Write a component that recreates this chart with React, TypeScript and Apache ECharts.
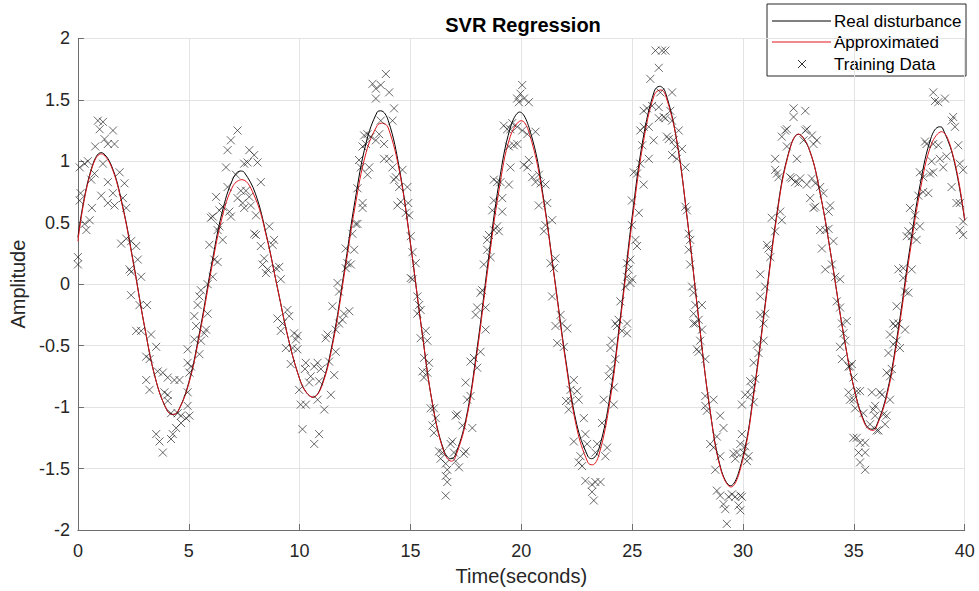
import React, { useEffect, useRef } from "react";
import * as echarts from "echarts";

const FONT = "'Liberation Sans', Arial, Helvetica, sans-serif";

const xTicks = [0, 5, 10, 15, 20, 25, 30, 35, 40];
const yTicks = [-2, -1.5, -1, -0.5, 0, 0.5, 1, 1.5, 2];

const realTime = [0, 0.5, 1.05, 1.5, 2, 2.5, 3, 3.5, 4, 4.28, 4.5, 5, 5.5, 6, 6.5, 7, 7.33, 7.5, 8, 8.5, 9, 9.5, 10, 10.3, 10.6, 11, 11.5, 12, 12.5, 13, 13.5, 13.66, 14, 14.5, 15, 15.5, 16, 16.5, 16.82, 17, 17.5, 18, 18.5, 19, 19.5, 19.92, 20.5, 21, 21.5, 22, 22.5, 23, 23.17, 23.5, 24, 24.5, 25, 25.5, 26, 26.24, 26.5, 27, 27.5, 28, 28.5, 29, 29.43, 30, 30.5, 31, 31.5, 32, 32.5, 33, 33.5, 34, 34.5, 35, 35.5, 35.81, 36, 36.5, 37, 37.5, 38, 38.5, 38.86, 39, 39.5, 40];
const realAmp = [0.38, 0.87, 1.07, 0.97, 0.65, 0.18, -0.34, -0.77, -1.02, -1.06, -1.04, -0.8, -0.38, 0.13, 0.58, 0.86, 0.92, 0.91, 0.74, 0.4, -0.03, -0.45, -0.77, -0.88, -0.92, -0.82, -0.46, 0.09, 0.68, 1.15, 1.4, 1.41, 1.33, 0.94, 0.33, -0.36, -0.98, -1.35, -1.42, -1.4, -1.1, -0.53, 0.18, 0.83, 1.27, 1.4, 1.18, 0.7, 0.05, -0.61, -1.14, -1.4, -1.42, -1.34, -0.91, -0.22, 0.55, 1.19, 1.57, 1.61, 1.56, 1.18, 0.51, -0.28, -1.01, -1.5, -1.64, -1.4, -0.86, -0.16, 0.54, 1.03, 1.22, 1.09, 0.72, 0.2, -0.37, -0.84, -1.13, -1.18, -1.16, -0.88, -0.37, 0.26, 0.82, 1.2, 1.28, 1.27, 1.02, 0.52];

const approxTime = [0, 0.5, 1.05, 1.5, 2, 2.5, 3, 3.5, 4, 4.28, 4.5, 5, 5.5, 6, 6.5, 7, 7.4, 8, 8.5, 9, 9.5, 10, 10.3, 10.6, 11, 11.5, 12, 12.5, 13, 13.5, 13.75, 14, 14.5, 15, 15.5, 16, 16.5, 16.85, 17, 17.5, 18, 18.5, 19, 19.5, 20, 20.5, 21, 21.5, 22, 22.5, 23, 23.2, 23.5, 24, 24.5, 25, 25.5, 26, 26.3, 26.5, 27, 27.5, 28, 28.5, 29, 29.45, 30, 30.5, 31, 31.5, 32, 32.5, 33, 33.5, 34, 34.5, 35, 35.5, 35.85, 36, 36.5, 37, 37.5, 38, 38.5, 38.95, 39.5, 40];
const approxAmp = [0.35, 0.86, 1.06, 0.96, 0.64, 0.17, -0.34, -0.77, -1.02, -1.06, -1.04, -0.81, -0.4, 0.1, 0.54, 0.8, 0.85, 0.7, 0.39, -0.03, -0.45, -0.77, -0.88, -0.92, -0.83, -0.48, 0.06, 0.63, 1.07, 1.29, 1.31, 1.27, 0.92, 0.33, -0.36, -0.98, -1.36, -1.44, -1.42, -1.12, -0.56, 0.14, 0.77, 1.2, 1.33, 1.14, 0.68, 0.04, -0.63, -1.17, -1.45, -1.47, -1.39, -0.95, -0.25, 0.51, 1.15, 1.54, 1.58, 1.54, 1.18, 0.51, -0.28, -1.01, -1.51, -1.65, -1.42, -0.88, -0.18, 0.52, 1.02, 1.22, 1.09, 0.72, 0.2, -0.37, -0.84, -1.14, -1.19, -1.17, -0.9, -0.4, 0.22, 0.77, 1.14, 1.24, 1.03, 0.52];

// Training data, [time, amplitude]
const trainingData: [number, number][] = [
  [0, 0.22], [0, 0.16], [0.08, 0.68], [0.12, 0.74], [0.08, 0.95], [0.3, 0.98], [0.45, 1.0], [0.3, 0.49], [0.38, 0.44], [0.53, 0.52],
  [0.63, 0.62], [0.6, 0.85], [0.75, 0.9], [0.78, 1.12], [0.9, 1.33], [1.13, 1.32], [0.98, 1.26], [1.2, 1.18], [1.35, 1.14], [1.58, 1.25],
  [1.65, 1.14], [1.05, 0.72], [1.13, 0.98], [1.35, 0.83], [1.35, 0.66], [1.65, 0.64], [1.58, 0.74], [1.88, 0.91], [2.1, 0.82], [2.03, 0.7],
  [2.18, 0.62], [1.95, 0.33], [2.18, 0.37], [2.4, 0.35], [2.63, 0.31], [2.7, 0.2], [2.33, 0.12], [2.4, 0.1], [2.85, 0.06], [2.4, -0.09],
  [2.78, -0.17], [3.12, -0.17], [2.63, -0.38], [2.85, -0.38], [3.3, -0.41], [3.53, -0.51], [3.08, -0.59], [3.23, -0.61], [3.08, -0.78], [3.23, -0.86],
  [3.6, -0.71], [3.83, -0.72], [4.05, -0.76], [4.35, -0.78], [4.58, -0.78], [3.9, -0.88], [4.05, -0.9], [4.05, -0.95], [4.2, -1.05], [4.5, -1.05],
  [4.65, -1.07], [4.88, -1.09], [3.53, -1.22], [3.68, -1.28], [3.83, -1.37], [4.2, -1.26], [4.28, -1.22], [4.43, -1.17], [4.65, -1.13], [4.95, -0.53],
  [4.95, -0.64], [5.03, -0.72], [5.03, -1.07], [4.95, -0.99], [4.95, -0.88], [5.1, -0.67], [5.25, -0.45], [5.48, -0.57], [5.55, -0.46], [5.7, -0.4],
  [5.78, -0.37], [5.25, -0.26], [5.33, -0.34], [5.85, -0.24], [5.4, -0.17], [5.48, -0.1], [5.55, -0.05], [5.85, 0], [6.08, 0.06], [6.15, 0.2],
  [6.3, 0.18], [5.93, 0.32], [6.3, 0.44], [6.53, 0.36], [6.38, 0.47], [6.08, 0.55], [6.0, 0.54], [6.38, 0.6], [6.53, 0.63], [6.23, 0.71],
  [6.83, 0.59], [6.9, 0.55], [6.75, 0.79], [6.68, 0.95], [6.75, 1.09], [6.9, 1.17], [7.2, 1.25], [7.13, 0.89], [7.2, 0.7], [7.35, 0.76],
  [7.43, 0.66], [7.5, 0.62], [7.58, 0.76], [7.5, 0.98], [7.65, 0.99], [7.73, 1.09], [7.95, 1.05], [8.1, 0.99], [8.25, 0.83], [7.73, 0.71],
  [7.8, 0.64], [8.03, 0.56], [7.95, 0.41], [8.03, 0.4], [8.25, 0.31], [8.4, 0.21], [8.33, 0.16], [8.55, 0.12], [8.63, 0.47], [8.85, 0.36],
  [8.78, 0.32], [8.48, 0.09], [8.93, 0.13], [9.15, 0.04], [9.08, 0.14], [9.0, -0.28], [9.23, -0.32], [9.15, -0.38], [9.45, -0.21], [9.53, -0.26],
  [9.38, -0.52], [9.6, -0.65], [9.75, -0.4], [9.83, -0.45], [9.68, -0.52], [9.9, -0.53], [9.98, -0.86], [10.05, -0.98], [10.13, -1.18], [9.91, -0.42],
  [10.28, -0.64], [10.24, -0.69], [10.5, -0.75], [10.43, -0.8], [10.66, -0.67], [10.81, -0.64], [10.96, -0.69], [10.88, -0.79], [10.28, -0.98], [10.66, -1.3],
  [10.88, -1.22], [10.81, -0.94], [11.11, -1.02], [11.18, -0.44], [11.26, -0.41], [11.33, -0.63], [11.41, -0.9], [11.56, -0.74], [11.63, -0.55], [11.63, -0.37],
  [11.78, -0.32], [11.93, -0.29], [12.0, -0.24], [12.24, -0.22], [11.48, -0.18], [11.78, -0.06], [11.71, 0.01], [12.08, 0.13], [12.16, 0.17], [12.31, 0.16],
  [12.08, 0.29], [12.46, 0.28], [12.38, 0.41], [12.53, 0.49], [12.61, 0.49], [12.61, 0.78], [12.84, 0.66], [12.84, 0.62], [12.68, 1.01], [12.76, 0.95],
  [12.84, 1.12], [12.91, 1.21], [13.06, 1.22], [12.99, 1.14], [13.14, 0.95], [13.06, 0.89], [13.21, 1.2], [13.44, 1.17], [13.59, 1.22], [13.81, 1.14],
  [13.66, 1.33], [13.29, 1.63], [13.44, 1.59], [13.66, 1.62], [13.44, 1.51], [13.89, 1.71], [14.04, 1.56], [14.26, 1.43], [14.19, 1.33], [13.81, 1.02],
  [14.04, 1.02], [14.19, 0.95], [14.34, 0.87], [14.26, 0.85], [14.64, 0.93], [14.49, 0.79], [14.41, 0.64], [14.56, 0.67], [14.79, 0.58], [14.86, 0.79],
  [14.9, 0.66], [14.94, 0.56], [15.01, 0.39], [15.09, 0.26], [15.24, 0.17], [15.01, 0.05], [15.09, 0.04], [15.31, -0.1], [15.39, -0.17], [15.31, -0.24],
  [15.46, -0.21], [15.46, -0.44], [15.69, -0.38], [15.76, -0.46], [15.61, -0.6], [15.84, -0.64], [15.54, -0.71], [15.61, -0.76], [15.76, -0.72], [15.91, -1.01],
  [16.06, -1.01], [16.14, -1.09], [15.99, -1.15], [16.06, -1.21], [16.29, -1.36], [16.44, -1.37], [16.36, -1.42], [16.59, -1.46], [16.66, -1.51], [16.59, -1.56],
  [16.66, -1.61], [16.59, -1.72], [16.81, -1.3], [16.89, -1.28], [16.96, -1.37], [17.04, -1.44], [17.19, -1.49], [17.04, -1.07], [17.11, -1.06], [17.34, -1.15],
  [17.41, -1.38], [17.49, -1.36], [17.49, -0.8], [17.56, -0.94], [17.71, -0.91], [17.79, -1.17], [17.71, -0.63], [17.86, -0.6], [18.16, -0.55], [18.01, -0.68],
  [17.94, -0.25], [18.01, -0.19], [18.39, -0.19], [18.39, -0.37], [18.16, -0.07], [18.24, -0.05], [18.31, 0.16], [18.46, 0.28], [18.61, 0.22], [18.46, 0.36],
  [18.54, 0.4], [18.76, 0.44], [18.99, 0.43], [18.91, 0.47], [18.69, 0.6], [19.14, 0.59], [18.76, 0.68], [19.14, 0.7], [18.76, 0.85], [18.91, 0.83],
  [19.06, 0.83], [19.44, 0.81], [19.51, 0.95], [19.44, 1.12], [19.66, 1.13], [19.21, 1.29], [19.36, 1.26], [19.51, 1.26], [19.59, 1.31], [19.81, 1.51],
  [19.89, 1.48], [19.96, 1.55], [20.04, 1.62], [20.11, 0.97], [20.12, 1.51], [20.34, 1.48], [19.82, 1.28], [20.04, 1.25], [20.27, 1.22], [20.64, 1.24],
  [19.82, 1.14], [20.34, 1.01], [20.27, 0.95], [20.49, 0.87], [20.64, 0.83], [20.79, 0.89], [20.87, 0.82], [21.09, 0.81], [20.79, 0.64], [21.17, 0.66],
  [21.09, 0.48], [21.02, 0.43], [21.39, 0.52], [21.32, 0.17], [21.54, 0.21], [21.47, 0.13], [21.39, -0.1], [21.77, -0.25], [21.84, -0.32], [21.54, -0.34],
  [22.07, -0.36], [21.62, -0.48], [21.92, -0.51], [22.37, -0.78], [22.22, -0.86], [22.52, -0.87], [22.02, -0.95], [22.22, -0.95], [22.14, -1.02], [22.59, -0.94],
  [22.82, -1.09], [22.37, -1.28], [22.89, -1.22], [22.97, -1.3], [22.67, -1.4], [22.74, -1.48], [22.59, -1.45], [23.42, -1.3], [23.34, -1.37], [22.89, -1.6],
  [23.19, -1.63], [23.34, -1.61], [23.57, -1.61], [23.19, -1.69], [23.27, -1.76], [23.64, -1.13], [23.72, -0.94], [23.87, -1.33], [23.79, -1.4], [23.94, -0.75],
  [24.02, -0.69], [24.17, -0.98], [24.17, -0.84], [24.02, -0.52], [24.09, -0.46], [24.24, -0.61], [24.24, -0.32], [24.32, -0.34], [24.39, -0.29], [24.54, -0.38],
  [24.47, -0.14], [24.69, -0.02], [24.77, 0.06], [24.84, 0.12], [24.77, 0.17], [24.92, 0.2], [24.99, 0.48], [24.99, 0.68], [25.07, 0.91], [24.77, -0.32],
  [24.77, -0.4], [24.92, 0.01], [25.0, 0.04], [25.15, 0.36], [25.22, 0.31], [25.3, 0.58], [25.22, 0.9], [25.37, 0.98], [25.52, 0.81], [25.75, 1.02],
  [25.45, 1.13], [25.37, 1.25], [25.52, 1.28], [25.75, 1.28], [25.52, 1.41], [25.67, 1.43], [25.9, 1.45], [25.97, 1.17], [25.82, 1.67], [26.2, 1.76],
  [26.05, 1.9], [26.35, 1.9], [26.5, 1.9], [26.27, 1.56], [26.2, 1.44], [26.2, 1.35], [26.42, 1.36], [26.5, 1.35], [26.72, 1.41], [26.8, 1.56],
  [26.8, 1.33], [26.57, 1.2], [26.65, 1.18], [26.87, 1.17], [27.1, 1.25], [26.95, 1.12], [27.25, 1.1], [26.8, 1.05], [27.02, 1.02], [27.4, 0.95],
  [27.4, 0.63], [27.47, 0.6], [27.55, 0.41], [27.62, 0.36], [27.55, 0.28], [27.62, 0.16], [27.7, -0.02], [27.77, -0.07], [27.85, -0.17], [27.77, -0.24],
  [27.77, -0.32], [27.85, -0.32], [28.0, -0.29], [28.15, -0.17], [28.15, -0.37], [27.92, -0.53], [28.0, -0.55], [28.07, -0.46], [28.3, -0.61], [28.3, -0.91],
  [28.3, -0.99], [28.37, -1.03], [28.67, -0.94], [28.97, -1.07], [28.52, -1.3], [28.67, -1.33], [28.82, -1.24], [29.12, -1.17], [28.97, -1.4], [28.75, -1.51],
  [28.82, -1.68], [28.97, -1.72], [29.12, -1.79], [29.2, -1.83], [29.27, -1.95], [29.35, -1.73], [29.5, -1.71], [29.65, -1.73], [29.88, -1.72], [29.8, -1.8],
  [29.57, -1.38], [29.65, -1.42], [29.88, -1.3], [29.95, -0.98], [29.88, -1.84], [29.95, -1.73], [29.73, -1.37], [30.03, -1.37], [30.18, -1.44], [30.25, -1.4],
  [29.95, -1.22], [30.1, -1.32], [30.1, -0.9], [30.33, -0.9], [30.4, -0.84], [30.33, -0.79], [30.48, -0.96], [30.55, -0.77], [30.48, -0.64], [30.7, -0.56],
  [30.63, -0.49], [30.93, -0.46], [30.93, -0.32], [31.0, -0.24], [30.78, -0.25], [30.78, -0.1], [31.0, -0.02], [30.78, 0.08], [31.15, 0.29], [31.23, 0.22],
  [31.08, 0.32], [31.3, 0.54], [31.45, 0.43], [31.68, 0.59], [31.75, 0.52], [31.45, 0.93], [31.53, 0.9], [31.6, 0.87], [31.45, 1.02], [31.75, 1.2],
  [31.9, 1.25], [31.98, 1.26], [31.98, 1.12], [32.13, 0.87], [32.28, 1.43], [32.28, 1.36], [32.81, 1.41], [32.43, 1.02], [32.2, 0.86], [32.35, 0.83],
  [32.5, 0.82], [32.58, 0.86], [32.73, 1.17], [32.81, 1.25], [32.88, 1.26], [33.11, 1.21], [33.33, 1.17], [33.18, 1.14], [32.88, 0.81], [33.11, 0.86],
  [33.26, 0.82], [33.03, 0.7], [33.26, 0.63], [33.18, 0.62], [33.48, 0.79], [33.63, 0.74], [33.93, 0.64], [33.86, 0.59], [33.48, 0.44], [33.71, 0.44],
  [33.86, 0.45], [33.56, 0.29], [34.08, 0.35], [33.71, 0.12], [34.01, 0.16], [34.16, 0.06], [34.38, 0.04], [34.23, -0.14], [34.38, -0.19], [34.46, -0.32],
  [34.53, -0.4], [34.38, -0.51], [34.61, -0.46], [34.46, -0.61], [34.76, -0.67], [34.98, -0.76], [34.76, -0.88], [34.98, -0.94], [34.98, -1.25], [34.68, -0.3],
  [34.83, -0.67], [34.91, -0.65], [35.13, -0.87], [35.28, -0.87], [34.83, -0.94], [35.06, -1.01], [35.13, -1.25], [35.28, -1.29], [35.51, -1.29], [35.51, -1.37],
  [35.21, -1.37], [35.28, -1.45], [35.51, -1.51], [35.43, -1.05], [35.73, -1.14], [35.81, -0.88], [35.88, -1.02], [35.96, -0.99], [35.96, -1.07], [36.03, -1.19],
  [36.11, -1.19], [36.18, -0.88], [36.26, -0.9], [36.33, -1.06], [36.41, -1.14], [36.48, -1.07], [36.48, -0.72], [36.63, -0.94], [36.63, -0.75], [36.71, -0.69],
  [36.56, -0.56], [36.78, -0.49], [36.93, -0.46], [36.86, -0.34], [36.63, -0.41], [36.78, -0.32], [37.01, -0.32], [37.31, -0.37], [37.08, -0.52], [36.93, -0.18],
  [37.01, 0.12], [37.23, 0.13], [37.23, 0.05], [37.61, 0.12], [37.31, -0.06], [37.46, -0.07], [37.38, 0.39], [37.46, 0.43], [37.61, 0.39], [37.83, 0.36],
  [37.68, 0.47], [37.98, 0.47], [37.53, 0.62], [37.76, 0.56], [37.91, 0.72], [38.13, 0.75], [38.36, 0.74], [37.98, 0.91], [38.13, 0.87], [38.43, 0.9],
  [38.58, 0.91], [38.28, 1.14], [38.21, 1.16], [38.58, 1.14], [38.51, 1.0], [38.88, 1.02], [38.81, 1.13], [39.03, 0.95], [38.58, 1.56], [38.66, 1.49],
  [38.81, 1.48], [39.11, 1.51], [39.41, 1.33], [39.56, 1.28], [39.48, 1.36], [39.71, 1.13], [39.78, 0.98], [39.93, 0.93], [39.41, 0.79], [39.63, 0.66],
  [39.78, 0.66], [39.93, 0.51], [39.78, 0.44], [39.93, 0.4], [39.18, 1.04],
];

const legendNames = ["Real disturbance", "Approximated", "Training Data"];

export default function App() {
  const ref = useRef<HTMLDivElement>(null);
  useEffect(() => {
    if (!ref.current) return;
    const chart = echarts.init(ref.current, undefined, { renderer: "svg" });
    const axisColor = "#6e6e6e";
    const labelColor = "#262626";
    const gridColor = "#e3e3e3";
    const realData = realTime.map((t, i) => [t, realAmp[i]]);
    const approxData = approxTime.map((t, i) => [t, approxAmp[i]]);
    const lx = 767, ly = 4, lw = 199, lh = 72;
    chart.setOption({
      animation: false,
      backgroundColor: "#ffffff",
      title: {
        text: "SVR Regression",
        left: 518,
        top: 10,
        textAlign: "center",
        textStyle: { fontFamily: FONT, fontSize: 20, fontWeight: "bold", color: "#000" },
      },
      grid: { left: 76.7, right: 14.3, top: 38.3, bottom: 60 },
      xAxis: {
        type: "value",
        min: xTicks[0],
        max: xTicks[xTicks.length - 1],
        interval: 5,
        name: "Time(seconds)",
        nameLocation: "middle",
        nameGap: 36,
        nameTextStyle: { fontFamily: FONT, fontSize: 20, color: labelColor },
        axisLine: { show: true, onZero: false, lineStyle: { color: axisColor, width: 1 } },
        axisTick: { show: true, inside: true, length: 6, lineStyle: { color: axisColor } },
        axisLabel: { fontFamily: FONT, fontSize: 18, color: labelColor, margin: 12 },
        splitLine: { show: true, lineStyle: { color: gridColor, width: 1 } },
      },
      yAxis: {
        type: "value",
        min: yTicks[0],
        max: yTicks[yTicks.length - 1],
        interval: 0.5,
        name: "Amplitude",
        nameLocation: "middle",
        nameGap: 42,
        nameRotate: 90,
        nameTextStyle: { fontFamily: FONT, fontSize: 20, color: labelColor },
        axisLine: { show: true, onZero: false, lineStyle: { color: axisColor, width: 1 } },
        axisTick: { show: true, inside: true, length: 6, lineStyle: { color: axisColor } },
        axisLabel: { fontFamily: FONT, fontSize: 18, color: labelColor, margin: 8 },
        splitLine: { show: true, lineStyle: { color: gridColor, width: 1 } },
      },
      series: [
        {
          name: legendNames[0],
          type: "line",
          data: realData,
          smooth: 0.4,
          showSymbol: false,
          symbol: "none",
          lineStyle: { color: "#000000", width: 1 },
          z: 3,
        },
        {
          name: legendNames[1],
          type: "line",
          data: approxData,
          smooth: 0.4,
          showSymbol: false,
          symbol: "none",
          lineStyle: { color: "#e0151d", width: 1 },
          z: 4,
        },
        {
          name: legendNames[2],
          type: "scatter",
          data: trainingData,
          symbol: "path://M0,0L10,10M10,0L0,10",
          symbolSize: 8,
          itemStyle: { color: "rgba(0,0,0,0)", borderColor: "rgba(20,20,20,0.8)", borderWidth: 1 },
          z: 5,
        },
      ],
      graphic: [
        {
          type: "group",
          z: 100,
          children: [
            { type: "rect", shape: { x: lx, y: ly, width: lw, height: lh }, style: { fill: "#ffffff", stroke: "#262626", lineWidth: 1 } },
            { type: "line", shape: { x1: 772, y1: 21, x2: 831, y2: 21 }, style: { stroke: "#000000", lineWidth: 1 } },
            { type: "line", shape: { x1: 772, y1: 42, x2: 831, y2: 42 }, style: { stroke: "#e0151d", lineWidth: 1 } },
            { type: "line", shape: { x1: 798, y1: 60, x2: 806, y2: 68 }, style: { stroke: "#333333", lineWidth: 1 } },
            { type: "line", shape: { x1: 806, y1: 60, x2: 798, y2: 68 }, style: { stroke: "#333333", lineWidth: 1 } },
            { type: "text", x: 834, y: 21, style: { text: legendNames[0], fontFamily: FONT, fontSize: 17, fill: "#000", textVerticalAlign: "middle", verticalAlign: "middle" } },
            { type: "text", x: 834, y: 42, style: { text: legendNames[1], fontFamily: FONT, fontSize: 17, fill: "#000", textVerticalAlign: "middle", verticalAlign: "middle" } },
            { type: "text", x: 834, y: 64, style: { text: legendNames[2], fontFamily: FONT, fontSize: 17, fill: "#000", textVerticalAlign: "middle", verticalAlign: "middle" } },
          ],
        },
      ],
    });
    return () => chart.dispose();
  }, []);
  return <div ref={ref} style={{ position: "absolute", left: 0, top: 0, width: 979, height: 591 }} />;
}
